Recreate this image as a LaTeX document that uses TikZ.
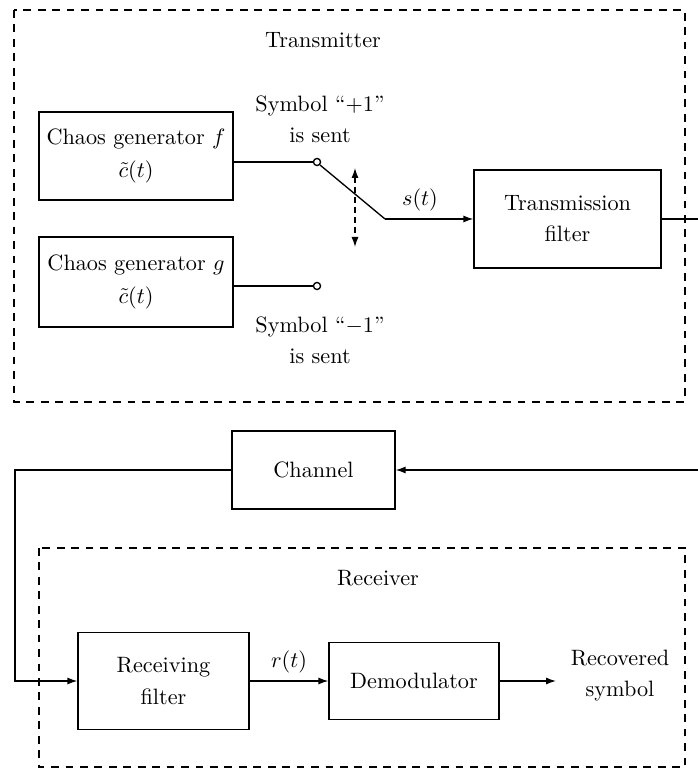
\documentclass[tikz,border=0pt]{standalone}
\usetikzlibrary{arrows.meta}
\newcommand\upx{0.45pt}
\begin{document}
\begin{tikzpicture}[x=0.45pt,y=-0.45pt,
  blk/.style={draw, line width=0.6pt, align=center, inner sep=0pt},
  grp/.style={draw, line width=0.6pt, dash pattern=on 3.5pt off 3pt},
  wire/.style={line width=0.6pt},
  arr/.style={wire, -{Latex[length=4.5pt,width=3.2pt]}},
  term/.style={circle, draw, line width=0.6pt, fill=white, inner sep=0pt, minimum size=3.2pt},
  lbl/.style={align=center, inner sep=0pt}]
\useasboundingbox (0,0) rectangle (698,769);

% transmitter group
\draw[grp] (14,10) rectangle (685,402);
\node[lbl] (txt) at (323,40) {Transmitter};

\node[blk, minimum width=194*\upx, minimum height=88*\upx] (f) at (136,156)
  {Chaos generator $f$\\[3pt] $\tilde{c}(t)$};
\node[blk, minimum width=194*\upx, minimum height=90*\upx] (g) at (136,282)
  {Chaos generator $g$\\[3pt] $\tilde{c}(t)$};
\node[blk, minimum width=187*\upx, minimum height=98*\upx] (tf) at (567.5,219)
  {Transmission\\[2pt] filter};

\node[term] (sw1) at (317,162) {};
\node[term] (sw2) at (317,286) {};
\coordinate (lev) at (385,219);
\coordinate (up) at (355,168);
\coordinate (dn) at (355,247);
\coordinate (txout) at (698,219);

\draw[wire] (f.east |- sw1) -- (sw1);
\draw[wire] (g.east |- sw2) -- (sw2);
\draw[wire] (sw1.south east) -- (lev);
\draw[arr] (lev) -- (tf.west);
\draw[wire] (tf.east) -- (txout);
\draw[line width=0.6pt, dash pattern=on 2.5pt off 2pt,
  {Latex[length=4.5pt,width=3.2pt]}-{Latex[length=4.5pt,width=3.2pt]}] (up) -- (dn);

\node[lbl] (plus) at (320,119) {Symbol ``$+1$''\\[2pt] is sent};
\node[lbl] (minus) at (320,340) {Symbol ``$-1$''\\[2pt] is sent};
\node[lbl] (s) at (420,200) {$s(t)$};

% channel
\node[blk, minimum width=163*\upx, minimum height=78*\upx] (ch) at (313.5,470) {Channel};
\coordinate (chin) at (698,470);
\coordinate (bend1) at (15,470);
\draw[arr] (chin) -- (ch.east);

% receiver group
\draw[grp] (39,548) rectangle (685,767);
\node[lbl] (rxt) at (378,578) {Receiver};

\node[blk, minimum width=171*\upx, minimum height=97*\upx] (rf) at (163.5,681)
  {Receiving\\[2pt] filter};
\node[blk, minimum width=170*\upx, minimum height=77*\upx] (dm) at (414,681) {Demodulator};
\node[lbl] (rec) at (620,676) {Recovered\\[2pt] symbol};
\node[lbl] (r) at (289,662) {$r(t)$};
\coordinate (recin) at (556,681);

\draw[arr] (ch.west) -- (bend1) |- (rf.west);
\draw[arr] (rf.east) -- (dm.west);
\draw[arr] (dm.east) -- (recin);
\end{tikzpicture}
\end{document}
